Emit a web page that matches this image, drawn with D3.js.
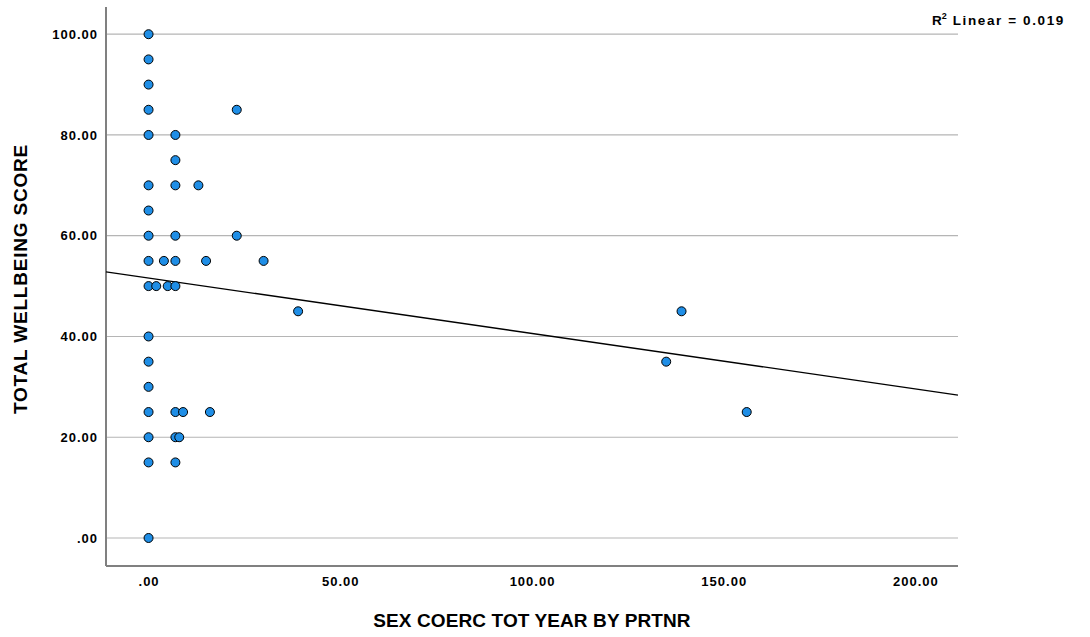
<!DOCTYPE html>
<html>
<head>
<meta charset="utf-8">
<script src="https://cdn.jsdelivr.net/npm/d3@7"></script>
<style>
  html, body { margin: 0; padding: 0; background: #fff; }
  svg text { font-family: "Liberation Sans", Arial, Helvetica, sans-serif; font-weight: bold; fill: #000; }
</style>
</head>
<body>
<svg id="chart" width="1090" height="637"></svg>
<script>
// Sexual coercion (total, past year, by partner) vs. total wellbeing score
const coercion = [
  0, 0, 0, 0, 0, 0, 0, 0, 0, 0, 0, 0, 0, 0, 0, 0, 0,
  2, 4, 5, 7, 7, 7, 7, 7, 7, 7, 7, 7, 8, 9, 13, 15, 16,
  23, 23, 30, 39, 135, 139, 156
];
const wellbeing = [
  100, 95, 90, 85, 80, 70, 65, 60, 55, 50, 40, 35, 30, 25, 20, 15, 0,
  50, 55, 50, 80, 75, 70, 60, 50, 25, 20, 15, 55, 20, 25, 70, 55, 25,
  85, 60, 55, 45, 35, 45, 25
];
const xTicks = [0, 50, 100, 150, 200];
const yTicks = [0, 20, 40, 60, 80, 100];
// Linear fit
const fitIntercept = 51.6;
const fitSlope = -0.11;
const rSquared = 0.019;

const svg = d3.select("#chart");
const plotLeft = 106, plotRight = 958, plotTop = 7, plotBottom = 566;

const x = d3.scaleLinear().domain([-11.1, 211.1]).range([plotLeft, plotRight]);
const y = d3.scaleLinear().domain([-5.56, 105.4]).range([plotBottom, plotTop]);

const fmt = v => v === 0 ? ".00" : d3.format(".2f")(v);

// Horizontal gridlines
svg.append("g")
  .selectAll("line")
  .data(yTicks)
  .join("line")
  .attr("x1", plotLeft).attr("x2", plotRight)
  .attr("y1", d => y(d)).attr("y2", d => y(d))
  .attr("stroke", "#b5b5b5").attr("stroke-width", 1.2);

// Axes
const yAxis = svg.append("g")
  .attr("transform", `translate(${plotLeft},0)`)
  .call(d3.axisLeft(y).tickValues(yTicks).tickFormat(fmt).tickSize(0).tickPadding(8));
const xAxis = svg.append("g")
  .attr("transform", `translate(0,${plotBottom})`)
  .call(d3.axisBottom(x).tickValues(xTicks).tickFormat(fmt).tickSize(0).tickPadding(11));

[yAxis, xAxis].forEach(g => {
  g.select(".domain").attr("stroke", "#808080").attr("stroke-width", 2);
  g.selectAll("text")
    .style("font-size", "13px")
    .style("letter-spacing", "1px")
    .style("font-family", "'Liberation Sans', Arial, sans-serif")
    .style("font-weight", "bold")
    .attr("fill", "#000");
});
yAxis.select(".domain").attr("d", `M0,${plotTop}V${plotBottom}`);
xAxis.select(".domain").attr("d", `M${plotLeft},0H${plotRight}`);

// Fit line across the full x range
const [x0, x1] = x.domain();
svg.append("line")
  .attr("x1", x(x0)).attr("y1", y(fitIntercept + fitSlope * x0))
  .attr("x2", x(x1)).attr("y2", y(fitIntercept + fitSlope * x1))
  .attr("stroke", "#000").attr("stroke-width", 1.3);

// Points
svg.append("g")
  .selectAll("circle")
  .data(coercion.map((c, i) => [c, wellbeing[i]]))
  .join("circle")
  .attr("cx", d => x(d[0]))
  .attr("cy", d => y(d[1]))
  .attr("r", 4.5)
  .attr("fill", "#1f8ee6")
  .attr("stroke", "#000")
  .attr("stroke-width", 1);

// Axis titles
svg.append("text")
  .attr("x", 532)
  .attr("y", 627)
  .attr("text-anchor", "middle")
  .style("font-size", "19px")
  .style("letter-spacing", "0.1px")
  .text("SEX COERC TOT YEAR BY PRTNR");

svg.append("text")
  .attr("transform", `translate(27,${279}) rotate(-90)`)
  .attr("text-anchor", "middle")
  .style("font-size", "19px")
  .style("letter-spacing", "0.8px")
  .text("TOTAL WELLBEING SCORE");

// R² annotation
const r2 = svg.append("text")
  .attr("x", 932).attr("y", 25)
  .style("font-size", "13.5px")
  .style("letter-spacing", "1.6px");
r2.append("tspan").style("letter-spacing", "0px").text("R");
r2.append("tspan").attr("dy", -6).style("font-size", "9px").style("letter-spacing", "0px").text("2");
r2.append("tspan").attr("dy", 6).attr("dx", 6).text(`Linear = ${rSquared.toFixed(3)}`);
</script>
</body>
</html>
